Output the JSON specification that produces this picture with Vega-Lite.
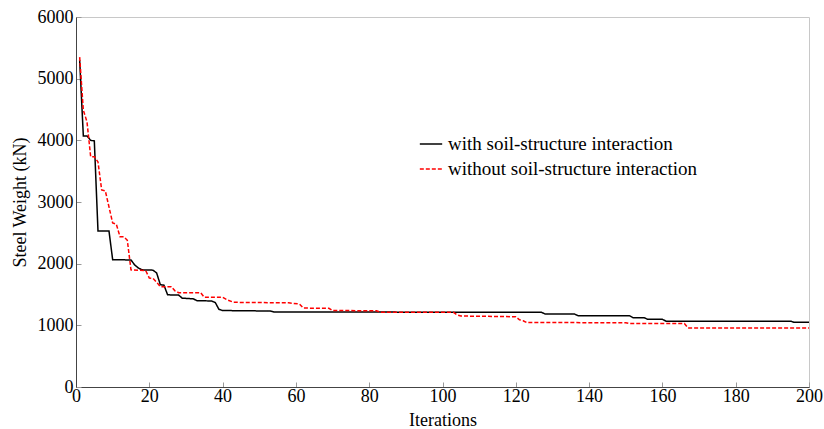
{
  "$schema": "https://vega.github.io/schema/vega-lite/v6.json",
  "width": 733,
  "height": 370,
  "autosize": {"type": "none"},
  "padding": {"left": 76, "top": 17, "right": 15, "bottom": 42},
  "config": {
    "font": "Liberation Serif",
    "view": {"stroke": "#c8c8c8", "strokeWidth": 1},
    "axis": {"grid": false, "domainColor": "#444", "tickColor": "#999", "labelColor": "#000", "titleColor": "#000", "labelFont": "Liberation Serif", "titleFont": "Liberation Serif", "labelFontSize": 18, "titleFontSize": 18, "titleFontWeight": "normal"}
  },
  "data": {"values": [
    {"i": 1, "w": 5300, "s": "with soil-structure interaction"},
    {"i": 2, "w": 4070, "s": "with soil-structure interaction"},
    {"i": 3, "w": 4070, "s": "with soil-structure interaction"},
    {"i": 4, "w": 4000, "s": "with soil-structure interaction"},
    {"i": 5, "w": 3990, "s": "with soil-structure interaction"},
    {"i": 6, "w": 2530, "s": "with soil-structure interaction"},
    {"i": 9, "w": 2530, "s": "with soil-structure interaction"},
    {"i": 10, "w": 2065, "s": "with soil-structure interaction"},
    {"i": 15, "w": 2060, "s": "with soil-structure interaction"},
    {"i": 16, "w": 1980, "s": "with soil-structure interaction"},
    {"i": 17, "w": 1930, "s": "with soil-structure interaction"},
    {"i": 18, "w": 1900, "s": "with soil-structure interaction"},
    {"i": 21, "w": 1895, "s": "with soil-structure interaction"},
    {"i": 22, "w": 1850, "s": "with soil-structure interaction"},
    {"i": 23, "w": 1660, "s": "with soil-structure interaction"},
    {"i": 24, "w": 1650, "s": "with soil-structure interaction"},
    {"i": 25, "w": 1495, "s": "with soil-structure interaction"},
    {"i": 28, "w": 1490, "s": "with soil-structure interaction"},
    {"i": 29, "w": 1440, "s": "with soil-structure interaction"},
    {"i": 32, "w": 1430, "s": "with soil-structure interaction"},
    {"i": 33, "w": 1400, "s": "with soil-structure interaction"},
    {"i": 37, "w": 1395, "s": "with soil-structure interaction"},
    {"i": 38, "w": 1370, "s": "with soil-structure interaction"},
    {"i": 39, "w": 1260, "s": "with soil-structure interaction"},
    {"i": 40, "w": 1240, "s": "with soil-structure interaction"},
    {"i": 53, "w": 1232, "s": "with soil-structure interaction"},
    {"i": 54, "w": 1216, "s": "with soil-structure interaction"},
    {"i": 127, "w": 1212, "s": "with soil-structure interaction"},
    {"i": 128, "w": 1183, "s": "with soil-structure interaction"},
    {"i": 136, "w": 1183, "s": "with soil-structure interaction"},
    {"i": 137, "w": 1156, "s": "with soil-structure interaction"},
    {"i": 151, "w": 1156, "s": "with soil-structure interaction"},
    {"i": 152, "w": 1124, "s": "with soil-structure interaction"},
    {"i": 155, "w": 1124, "s": "with soil-structure interaction"},
    {"i": 156, "w": 1097, "s": "with soil-structure interaction"},
    {"i": 160, "w": 1097, "s": "with soil-structure interaction"},
    {"i": 161, "w": 1068, "s": "with soil-structure interaction"},
    {"i": 195, "w": 1068, "s": "with soil-structure interaction"},
    {"i": 196, "w": 1048, "s": "with soil-structure interaction"},
    {"i": 200, "w": 1048, "s": "with soil-structure interaction"},
    {"i": 1, "w": 5350, "s": "without soil-structure interaction"},
    {"i": 2, "w": 4490, "s": "without soil-structure interaction"},
    {"i": 3, "w": 4300, "s": "without soil-structure interaction"},
    {"i": 4, "w": 3735, "s": "without soil-structure interaction"},
    {"i": 5, "w": 3735, "s": "without soil-structure interaction"},
    {"i": 6, "w": 3650, "s": "without soil-structure interaction"},
    {"i": 7, "w": 3195, "s": "without soil-structure interaction"},
    {"i": 8, "w": 3180, "s": "without soil-structure interaction"},
    {"i": 10, "w": 2660, "s": "without soil-structure interaction"},
    {"i": 11, "w": 2640, "s": "without soil-structure interaction"},
    {"i": 12, "w": 2437, "s": "without soil-structure interaction"},
    {"i": 13, "w": 2437, "s": "without soil-structure interaction"},
    {"i": 14, "w": 2380, "s": "without soil-structure interaction"},
    {"i": 15, "w": 1900, "s": "without soil-structure interaction"},
    {"i": 19, "w": 1890, "s": "without soil-structure interaction"},
    {"i": 20, "w": 1767, "s": "without soil-structure interaction"},
    {"i": 21, "w": 1762, "s": "without soil-structure interaction"},
    {"i": 22, "w": 1700, "s": "without soil-structure interaction"},
    {"i": 23, "w": 1627, "s": "without soil-structure interaction"},
    {"i": 26, "w": 1627, "s": "without soil-structure interaction"},
    {"i": 27, "w": 1560, "s": "without soil-structure interaction"},
    {"i": 28, "w": 1530, "s": "without soil-structure interaction"},
    {"i": 34, "w": 1530, "s": "without soil-structure interaction"},
    {"i": 35, "w": 1455, "s": "without soil-structure interaction"},
    {"i": 40, "w": 1455, "s": "without soil-structure interaction"},
    {"i": 41, "w": 1420, "s": "without soil-structure interaction"},
    {"i": 43, "w": 1373, "s": "without soil-structure interaction"},
    {"i": 58, "w": 1365, "s": "without soil-structure interaction"},
    {"i": 61, "w": 1345, "s": "without soil-structure interaction"},
    {"i": 62, "w": 1280, "s": "without soil-structure interaction"},
    {"i": 69, "w": 1276, "s": "without soil-structure interaction"},
    {"i": 70, "w": 1240, "s": "without soil-structure interaction"},
    {"i": 82, "w": 1237, "s": "without soil-structure interaction"},
    {"i": 83, "w": 1212, "s": "without soil-structure interaction"},
    {"i": 103, "w": 1211, "s": "without soil-structure interaction"},
    {"i": 104, "w": 1170, "s": "without soil-structure interaction"},
    {"i": 105, "w": 1151, "s": "without soil-structure interaction"},
    {"i": 120, "w": 1140, "s": "without soil-structure interaction"},
    {"i": 121, "w": 1090, "s": "without soil-structure interaction"},
    {"i": 122, "w": 1075, "s": "without soil-structure interaction"},
    {"i": 123, "w": 1045, "s": "without soil-structure interaction"},
    {"i": 150, "w": 1043, "s": "without soil-structure interaction"},
    {"i": 151, "w": 1030, "s": "without soil-structure interaction"},
    {"i": 166, "w": 1030, "s": "without soil-structure interaction"},
    {"i": 167, "w": 957, "s": "without soil-structure interaction"},
    {"i": 200, "w": 957, "s": "without soil-structure interaction"}
  ]},
  "mark": {"type": "line", "strokeWidth": 1.5, "clip": true},
  "encoding": {
    "x": {
      "field": "i", "type": "quantitative", "title": "Iterations",
      "scale": {"domain": [0, 200], "nice": false, "zero": false},
      "axis": {"values": [0, 20, 40, 60, 80, 100, 120, 140, 160, 180, 200], "format": "d", "tickSize": -5, "labelPadding": 5, "titlePadding": 6, "labelFlush": false, "labelOverlap": false}
    },
    "y": {
      "field": "w", "type": "quantitative", "title": "Steel Weight (kN)",
      "scale": {"domain": [0, 6000], "nice": false},
      "axis": {"values": [0, 1000, 2000, 3000, 4000, 5000, 6000], "format": "d", "tickSize": -5, "labelPadding": 8, "titlePadding": 8, "labelFlush": false, "labelOverlap": false}
    },
    "color": {
      "field": "s", "type": "nominal",
      "scale": {"domain": ["with soil-structure interaction", "without soil-structure interaction"], "range": ["#000000", "#ff0000"]},
      "legend": {"title": null, "orient": "none", "legendX": 343, "legendY": 115, "symbolType": "stroke", "symbolSize": 500, "symbolStrokeWidth": 1.5, "labelFontSize": 19, "labelFont": "Liberation Serif", "labelColor": "#000", "labelLimit": 0, "rowPadding": 3, "labelOffset": 5}
    },
    "strokeDash": {
      "field": "s", "type": "nominal",
      "scale": {"domain": ["with soil-structure interaction", "without soil-structure interaction"], "range": [[1, 0], [4, 2]]},
      "legend": null
    }
  }
}
